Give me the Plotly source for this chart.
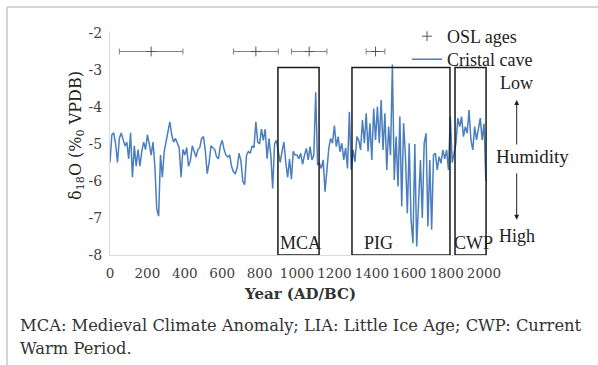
import plotly.graph_objects as go

# ---------------- data ----------------
years = list(range(0, 2011, 10))
d18o = [
    # 0-490
    -5.5, -4.75, -4.7, -5.0, -5.5, -4.85, -4.7, -4.9, -5.05, -4.95,
    -5.4, -4.7, -5.9, -5.05, -5.6, -5.15, -5.6, -5.2, -4.95, -5.15,
    -4.75, -5.0, -5.3, -4.95, -5.6, -6.75, -6.95, -5.3, -5.9, -5.2,
    -4.9, -4.65, -4.4, -4.75, -4.95, -4.85, -5.0, -5.1, -5.9, -5.15,
    -5.3, -5.1, -5.6, -5.45, -5.05, -5.2, -5.35, -5.15, -5.1, -4.85,
    # 500-990
    -4.8, -5.2, -5.8, -5.5, -5.05, -5.1, -5.15, -5.35, -5.4, -5.05,
    -4.9, -5.15, -5.3, -5.35, -5.3, -5.6, -5.75, -5.8, -5.65, -5.25,
    -5.45, -6.0, -6.1, -5.3, -5.2, -5.25, -5.05, -5.1, -4.4, -4.95,
    -5.0, -4.6, -4.9, -4.6, -5.4, -4.85, -5.3, -6.2, -5.0, -4.9,
    -5.15, -5.5, -5.2, -4.95, -5.5, -5.9, -5.4, -5.95, -5.2, -5.3,
    # 1000-1490
    -5.3, -5.4, -5.25, -5.55, -5.3, -5.12, -5.43, -5.07, -5.43, -5.3,
    -3.6, -5.55, -5.52, -5.66, -5.43, -6.29, -5.7, -5.12, -4.85, -4.98,
    -4.5, -5.07, -4.8, -5.21, -4.98, -5.43, -5.1, -5.66, -4.13, -5.7,
    -5.16, -5.48, -4.8, -4.9, -5.16, -4.35, -4.98, -4.17, -5.2, -4.44,
    -5.43, -4.04, -4.89, -3.99, -4.98, -3.81, -5.16, -4.17, -5.7, -4.53,
    # 1500-2010
    -5.3, -2.85, -5.97, -4.8, -6.15, -4.26, -6.69, -4.44, -5.34, -6.87,
    -4.98, -7.05, -7.68, -5.0, -7.77, -6.6, -5.43, -7.0, -4.98, -4.71,
    -7.23, -5.43, -7.32, -5.3, -5.25, -5.7, -5.34, -5.52, -5.16, -5.4,
    -5.16, -5.7, -4.26, -5.5, -5.25, -4.98, -4.3, -4.53, -4.26, -4.8,
    -4.53, -4.71, -4.08, -4.89, -5.16, -4.53, -4.89, -4.62, -4.3, -4.89,
    -4.45, -6.0,
]

osl_years = [220, 780, 1065, 1420]
osl_err = [170, 120, 95, 50]
osl_d18o = [-2.5, -2.5, -2.5, -2.5]

# climate periods: label, start, end
period_names = ["MCA", "PIG", "CWP"]
period_start = [898, 1294, 1845]
period_end = [1118, 1818, 2011]
period_top = -2.93
period_label_x = [900, 1346, 1827]

x_ticks = list(range(0, 2001, 200))
y_ticks = [-8, -7, -6, -5, -4, -3, -2]
y_ticklabels = ["-8", "-7", "-6", "-5", "-4", "-3", "-2"]

caption1 = "MCA: Medieval Climate Anomaly; LIA: Little Ice Age; CWP: Current"
caption2 = "Warm Period."

# ---------------- figure ----------------
SERIF = "DejaVu Serif"
TNR = "Liberation Serif"
BLUE = "#4a7ebf"
TXT = "#222222"

fig = go.Figure()

fig.add_trace(go.Scatter(
    x=years, y=d18o, mode="lines", name="Cristal cave",
    line=dict(color=BLUE, width=1.5), legend="legend2",
))

fig.add_trace(go.Scatter(
    x=osl_years, y=osl_d18o, mode="markers", name="OSL ages",
    marker=dict(symbol="cross-thin", size=7, color="#555555",
                line=dict(width=1, color="#555555")),
    error_x=dict(type="data", array=osl_err, symmetric=True,
                 color="#808080", thickness=1, width=3),
    legend="legend",
))

shapes = []
for s, e in zip(period_start, period_end):
    shapes.append(dict(type="rect", xref="x", yref="y", x0=s, x1=e,
                       y0=-8, y1=period_top,
                       line=dict(color="#1a1a1a", width=1.5),
                       fillcolor="rgba(0,0,0,0)", layer="above"))

# outer frame (top and left edges)
fx0, fy0 = (7 - 110) / 377, (255 - 7) / 222
shapes.append(dict(type="line", xref="paper", yref="paper",
                   x0=fx0, y0=fy0, x1=(598 - 110) / 377, y1=fy0,
                   line=dict(color="#c8c8c8", width=1.5)))
shapes.append(dict(type="line", xref="paper", yref="paper",
                   x0=fx0, y0=fy0, x1=fx0, y1=(255 - 365) / 222,
                   line=dict(color="#c8c8c8", width=1.5)))

annotations = []
for name, lx in zip(period_names, period_label_x):
    annotations.append(dict(x=lx, y=-7.68, xref="x", yref="y", text=name,
                            showarrow=False, xanchor="left", yanchor="middle",
                            font=dict(family=TNR, size=18, color=TXT)))

ax_x = (516.7 - 110) / 377
annotations += [
    dict(x=ax_x, y=-3.35, xref="paper", yref="y", text="Low", showarrow=False,
         xanchor="center", yanchor="middle",
         font=dict(family=TNR, size=18, color=TXT)),
    dict(x=(532 - 110) / 377, y=-5.34, xref="paper", yref="y", text="Humidity",
         showarrow=False, xanchor="center", yanchor="middle",
         font=dict(family=TNR, size=19, color=TXT)),
    dict(x=ax_x, y=-7.49, xref="paper", yref="y", text="High", showarrow=False,
         xanchor="center", yanchor="middle",
         font=dict(family=TNR, size=18, color=TXT)),
    dict(x=ax_x, y=-3.81, xref="paper", yref="y", text="", showarrow=True,
         ax=0, ay=46, arrowhead=2, arrowsize=1, arrowwidth=1, arrowcolor=TXT),
    dict(x=ax_x, y=-7.05, xref="paper", yref="y", text="", showarrow=True,
         ax=0, ay=-48, arrowhead=2, arrowsize=1, arrowwidth=1, arrowcolor=TXT),
    dict(x=(76 - 110) / 377, y=(255 - 136) / 222, xref="paper", yref="paper",
         text="δ<sub>18</sub>O (%<sub>0</sub> VPDB)", textangle=-90, showarrow=False,
         xanchor="center", yanchor="middle",
         font=dict(family=SERIF, size=16, color=TXT)),
    dict(x=(300 - 110) / 377, y=(255 - 294) / 222, xref="paper", yref="paper",
         text="<b>Year (AD/BC)</b>", showarrow=False,
         xanchor="center", yanchor="middle",
         font=dict(family=SERIF, size=15, color="#333333")),
    dict(x=(18 - 110) / 377, y=(255 - 325) / 222, xref="paper", yref="paper",
         text=caption1, showarrow=False, xanchor="left", yanchor="middle",
         font=dict(family=SERIF, size=16.3, color="#333333")),
    dict(x=(18 - 110) / 377, y=(255 - 348) / 222, xref="paper", yref="paper",
         text=caption2, showarrow=False, xanchor="left", yanchor="middle",
         font=dict(family=SERIF, size=16.3, color="#333333")),
]

leg_common = dict(xanchor="left", yanchor="middle", bgcolor="rgba(0,0,0,0)",
                  font=dict(family=TNR, size=18, color=TXT))

fig.update_layout(
    width=598, height=365,
    margin=dict(l=110, r=111, t=33, b=110),
    paper_bgcolor="white", plot_bgcolor="white",
    showlegend=True,
    legend=dict(x=(407 - 110) / 377, y=(255 - 36.5) / 222, **leg_common),
    legend2=dict(x=(407 - 110) / 377, y=(255 - 59.5) / 222, **leg_common),
    xaxis=dict(range=[0, 2016], tickvals=x_ticks, showgrid=False, zeroline=False,
               showline=True, linecolor="#d9d9d9", linewidth=1, ticks="",
               ticklabelstandoff=6,
               tickfont=dict(family=SERIF, size=13.5, color="#404040")),
    yaxis=dict(range=[-8, -2], tickvals=y_ticks, ticktext=y_ticklabels,
               showgrid=False, zeroline=False, showline=True, linecolor="#d9d9d9",
               linewidth=1, ticks="", ticklabelstandoff=4,
               tickfont=dict(family=SERIF, size=14, color="#404040")),
    shapes=shapes, annotations=annotations,
)

fig.write_html("out.html")
